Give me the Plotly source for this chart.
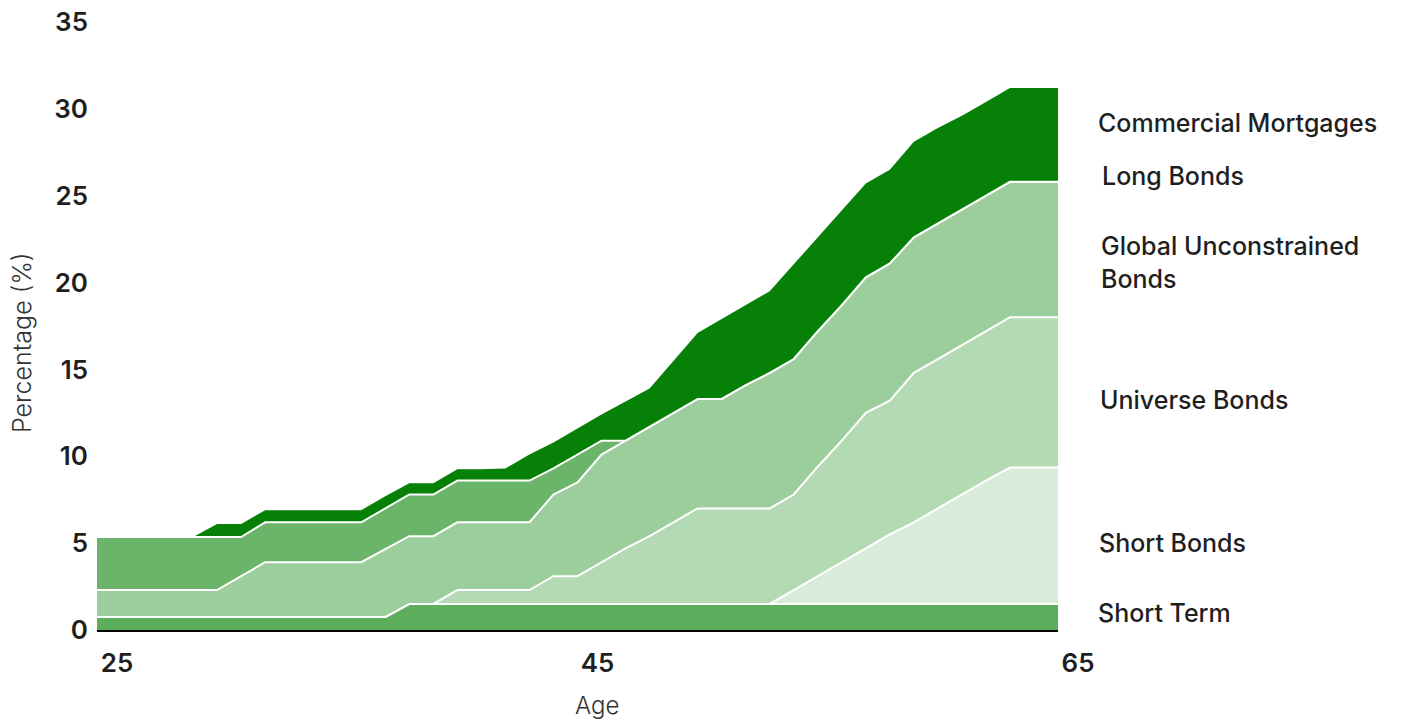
import plotly.graph_objects as go

ages = [25, 26, 27, 28, 29, 30, 31, 32, 33, 34, 35, 36, 37, 38, 39, 40, 41, 42, 43, 44, 45,
        46, 47, 48, 49, 50, 51, 52, 53, 54, 55, 56, 57, 58, 59, 60, 61, 62, 63, 64, 65]

short_term = [0.75, 0.75, 0.75, 0.75, 0.75, 0.75, 0.75, 0.75, 0.75, 0.75, 0.75, 0.75, 0.75,
              1.5, 1.5, 1.5, 1.5, 1.5, 1.5, 1.5, 1.5, 1.5, 1.5, 1.5, 1.5, 1.5, 1.5, 1.5,
              1.5, 1.5, 1.5, 1.5, 1.5, 1.5, 1.5, 1.5, 1.5, 1.5, 1.5, 1.5, 1.5]

short_bonds = [0, 0, 0, 0, 0, 0, 0, 0, 0, 0, 0, 0, 0, 0, 0, 0, 0, 0, 0, 0, 0, 0, 0, 0, 0, 0,
               0, 0, 0, 0.8, 1.6, 2.4, 3.2, 4.0, 4.7, 5.5, 6.3, 7.1, 7.85, 7.85, 7.85]

universe_bonds = [0, 0, 0, 0, 0, 0, 0, 0, 0, 0, 0, 0, 0, 0, 0,
                  0.8, 0.8, 0.8, 0.8, 1.6, 1.6, 2.4, 3.2, 3.9, 4.7, 5.5, 5.5, 5.5, 5.5, 5.5,
                  6.3, 7.0, 7.8, 7.7, 8.6, 8.6, 8.6, 8.6, 8.65, 8.65, 8.65]

global_unconstrained = [1.55, 1.55, 1.55, 1.55, 1.55, 1.55, 2.35, 3.15, 3.15, 3.15, 3.15, 3.15,
                        3.9, 3.9, 3.9, 3.9, 3.9, 3.9, 3.9, 4.7, 5.4, 6.2, 6.2, 6.3, 6.3, 6.3,
                        6.3, 7.1, 7.8, 7.8, 7.8, 7.8, 7.8, 7.9, 7.8, 7.8, 7.8, 7.8, 7.8, 7.8, 7.8]

long_bonds = [3.05, 3.05, 3.05, 3.05, 3.05, 3.05, 2.25, 2.3, 2.3, 2.3, 2.3, 2.3, 2.35,
              2.4, 2.4, 2.4, 2.4, 2.4, 2.4, 1.5, 1.6, 0.8, 0, 0, 0, 0, 0, 0, 0, 0, 0, 0,
              0, 0, 0, 0, 0, 0, 0, 0, 0]

commercial_mortgages = [0, 0, 0, 0, 0, 0.75, 0.75, 0.7, 0.7, 0.7, 0.7, 0.7, 0.7, 0.65, 0.65,
                        0.65, 0.65, 0.7, 1.5, 1.5, 1.5, 1.5, 2.25, 2.2, 3.0, 3.8, 4.6, 4.6,
                        4.7, 5.45, 5.4, 5.45, 5.4, 5.4, 5.5, 5.5, 5.4, 5.4, 5.4, 5.4, 5.4]

series_names = ["Short Term", "Short Bonds", "Universe Bonds",
                "Global Unconstrained Bonds", "Long Bonds", "Commercial Mortgages"]
series_values = [short_term, short_bonds, universe_bonds,
                 global_unconstrained, long_bonds, commercial_mortgages]
colors = ["#5cae5c", "#d9ecd9", "#b3dab3", "#9ccd9c", "#6ab56a", "#068006"]

label_texts = ["Short Term", "Short Bonds", "Universe Bonds",
               "Global Unconstrained<br>Bonds", "Long Bonds", "Commercial Mortgages"]
label_y = [0.98, 5.01, 13.24, 21.18, 26.14, 29.19]
label_x = [1.0396, 1.0406, 1.0416, 1.0427, 1.0437, 1.0396]

y_ticks = [0, 5, 10, 15, 20, 25, 30, 35]
x_ticks = [25, 45, 65]

FONT = "Inter"

fig = go.Figure()
for name, vals, col in zip(series_names, series_values, colors):
    top = name == "Commercial Mortgages"
    fig.add_trace(go.Scatter(
        x=ages, y=vals, name=name, mode="lines", stackgroup="one",
        fillcolor=col,
        line=dict(color="white", width=0 if top else 2),
        showlegend=False,
    ))

for t, yv, xv in zip(label_texts, label_y, label_x):
    fig.add_annotation(text=t, x=xv, y=yv, xref="paper", yref="y",
                       xanchor="left", yanchor="middle", showarrow=False, align="left",
                       font=dict(family=FONT, size=25, color="#1f1f1f", weight=500))

fig.add_annotation(text="Percentage (%)", x=-0.078, y=(630 - 343) / 608,
                   xref="paper", yref="paper", textangle=-90, showarrow=False,
                   xanchor="center", yanchor="middle",
                   font=dict(family=FONT, size=25, color="#333333", weight=300))
fig.add_annotation(text="Age", x=0.5203, y=-0.1234, xref="paper", yref="paper",
                   showarrow=False, xanchor="center", yanchor="middle",
                   font=dict(family=FONT, size=24, color="#333333", weight=300))

fig.update_layout(
    width=1419, height=722,
    margin=dict(l=97, r=361, t=22, b=92, autoexpand=False),
    paper_bgcolor="white", plot_bgcolor="white",
    hovermode=False,
)
fig.update_xaxes(range=[25, 65], tickvals=x_ticks, showgrid=False, zeroline=False,
                 showline=True, linecolor="black", linewidth=2, ticks="",
                 automargin=False,
                 ticklabelshift=20, ticklabelstandoff=9, ticklabeloverflow="allow",
                 tickfont=dict(family=FONT, size=26, color="#1f1f1f", weight=600))
fig.update_yaxes(range=[0, 35], tickvals=y_ticks, showgrid=False, zeroline=False,
                 showline=False, ticks="", automargin=False,
                 ticklabelstandoff=8, ticklabeloverflow="allow",
                 tickfont=dict(family=FONT, size=26, color="#1f1f1f", weight=600))

# remove the browser's default 8px body margin so the figure fills the window exactly
fig.write_html("out.html",
               config={"displayModeBar": False, "staticPlot": True},
               post_script="document.body.style.margin='0';document.body.style.overflow='hidden';")
